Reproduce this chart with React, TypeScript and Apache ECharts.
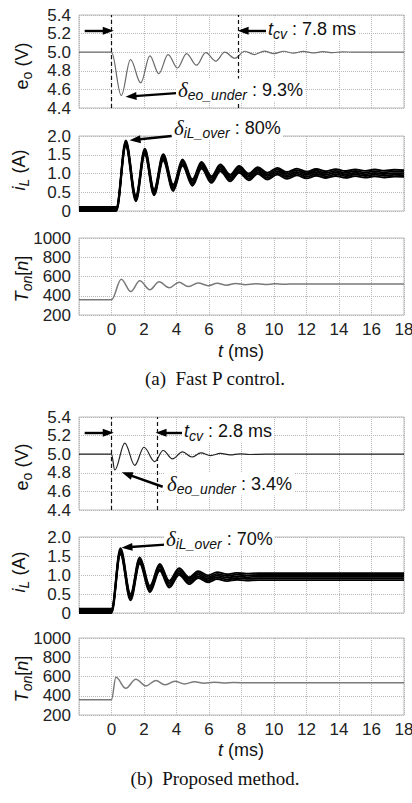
import React, { useEffect, useRef } from 'react';
import * as echarts from 'echarts';

// ---------- data ----------
const xTicksMin = -2;
const xTicksMax = 18;
const xTickStep = 2;

// (a) Fast P control
const eoATime = [-2, 0, 0.6, 1.17, 1.8, 2.36, 2.91, 3.48, 4.06, 4.62, 5.23, 5.8, 6.42, 6.97, 7.59, 8.2, 8.8, 9.4, 10.0, 10.6, 11.2, 11.8, 12.4, 13.0, 13.6, 14.2, 15, 18];
const eoAVal = [5.0, 5.0, 4.535, 4.92, 4.67, 4.96, 4.77, 4.975, 4.83, 4.985, 4.86, 4.995, 4.905, 5.0, 4.935, 5.01, 4.975, 5.012, 4.985, 5.01, 4.99, 5.008, 4.992, 5.006, 4.995, 5.004, 5.0, 5.0];

// inductor current: centre of the ripple band and half of its thickness
const iLATime = [-2, 0.3, 0.88, 1.5, 2.05, 2.62, 3.18, 3.8, 4.37, 4.98, 5.54, 6.15, 6.7, 7.3, 7.85, 8.45, 9.0, 9.6, 10.2, 10.8, 11.4, 12.0, 12.6, 13.2, 13.8, 14.4, 15.0, 15.6, 16.2, 16.8, 17.4, 18];
const iLAMid = [0.055, 0.055, 1.8, 0.34, 1.58, 0.5, 1.43, 0.62, 1.29, 0.76, 1.22, 0.84, 1.15, 0.88, 1.11, 0.91, 1.08, 0.93, 1.06, 0.95, 1.04, 0.96, 1.03, 0.97, 1.025, 0.975, 1.02, 0.98, 1.015, 0.985, 1.01, 1.0];
const iLAHalf = [0.055, 0.055, 0.08, 0.08, 0.08, 0.08, 0.085, 0.085, 0.085, 0.085, 0.09, 0.09, 0.09, 0.09, 0.09, 0.09, 0.09, 0.09, 0.09, 0.09, 0.09, 0.09, 0.09, 0.09, 0.09, 0.09, 0.09, 0.09, 0.09, 0.09, 0.09, 0.09];

const tonATime = [-2, 0, 0.6, 1.19, 1.74, 2.36, 2.93, 3.55, 4.16, 4.71, 5.33, 5.95, 6.5, 7.08, 7.65, 8.25, 8.85, 9.45, 10.05, 10.65, 11.25, 12, 18];
const tonAVal = [358, 358, 572, 443, 555, 462, 545, 482, 541, 495, 533, 505, 530, 510, 527, 515, 525, 517, 524, 519, 523, 521, 522];

const tcvA = 7.8;

// (b) Proposed method
const eoBTime = [-2, 0, 0.2, 0.82, 1.43, 2.0, 2.66, 3.18, 3.75, 4.37, 4.95, 5.5, 6.1, 6.7, 7.3, 7.9, 8.5, 9.5, 18];
const eoBVal = [5.0, 5.0, 4.83, 5.12, 4.88, 5.075, 4.92, 5.04, 4.95, 5.025, 4.97, 5.015, 4.985, 5.008, 4.992, 5.004, 4.997, 5.0, 5.0];

const iLBTime = [-2, 0, 0.55, 1.17, 1.74, 2.36, 2.97, 3.55, 4.16, 4.78, 5.33, 5.95, 6.5, 7.1, 7.7, 8.3, 9.0, 18];
const iLBMid = [0.055, 0.055, 1.62, 0.42, 1.38, 0.63, 1.2, 0.76, 1.09, 0.85, 1.01, 0.9, 0.985, 0.93, 0.965, 0.945, 0.955, 0.955];
const iLBHalf = [0.055, 0.055, 0.085, 0.085, 0.085, 0.085, 0.09, 0.09, 0.09, 0.09, 0.09, 0.09, 0.09, 0.09, 0.09, 0.09, 0.09, 0.09];

const tonBTime = [-2, 0, 0.27, 0.88, 1.5, 2.11, 2.73, 3.28, 3.9, 4.5, 5.1, 5.7, 6.3, 6.9, 7.5, 8.5, 18];
const tonBVal = [358, 358, 592, 478, 572, 502, 558, 513, 550, 523, 545, 530, 540, 533, 537, 535, 535];

const tcvB = 2.8;

// annotation arrows in data units: [x1, y1, x2(head), y2(head)]
const arrowsEoA = [[-1.65, 5.23, -0.2, 5.23], [9.6, 5.23, 8.1, 5.23], [4.0, 4.56, 1.2, 4.525]];
const arrowsILA = [[3.7, 2.0, 1.45, 1.9]];
const arrowsEoB = [[-1.65, 5.23, -0.2, 5.23], [4.35, 5.23, 3.05, 5.23], [3.15, 4.65, 0.95, 4.785]];
const arrowsILB = [[3.3, 1.8, 0.95, 1.73]];

// ---------- styling / layout ----------
const SANS = 'Liberation Sans, Arial, Helvetica, sans-serif';
const SERIF = 'Liberation Serif, Times New Roman, serif';
const GRID_LEFT = 79;
const GRID_WIDTH = 325;
const gridBoxes = [
  { top: 15, height: 93 },
  { top: 136, height: 75 },
  { top: 238, height: 77 },
  { top: 417, height: 93 },
  { top: 537, height: 76 },
  { top: 638, height: 77 },
];
// strokes that fill the ripple band: fractions of the half-thickness
const bandStrokes = [-1, -0.5, 0, 0.5, 1];

const zip = (xs: number[], ys: number[]) => xs.map((x, i) => [x, ys[i]]);

const rich: any = {
  n: { fontFamily: SANS, fontSize: 18, fill: '#111' },
  i: { fontFamily: SANS, fontSize: 18, fontStyle: 'italic', fill: '#111' },
  s: { fontFamily: SANS, fontSize: 14, fill: '#111', padding: [9, 0, 0, 0] },
  si: { fontFamily: SANS, fontSize: 14, fontStyle: 'italic', fill: '#111', padding: [9, 0, 0, 0] },
  d: { fontFamily: SERIF, fontSize: 21, fontStyle: 'italic', fill: '#111' },
};

function App() {
  const ref = useRef<HTMLDivElement>(null);
  useEffect(() => {
    const chart = echarts.init(ref.current!, null, { renderer: 'svg' });

    const yDefs = [
      { min: 4.4, max: 5.4, interval: 0.2, fmt: (v: number) => v.toFixed(1) },
      { min: 0, max: 2, interval: 0.5, fmt: (v: number) => (v === 0 ? '0' : v.toFixed(1)) },
      { min: 200, max: 1000, interval: 200, fmt: (v: number) => String(v) },
    ];

    const grid = gridBoxes.map((g) => ({
      left: GRID_LEFT,
      width: GRID_WIDTH,
      top: g.top,
      height: g.height,
      show: true,
      borderColor: '#bdbdbd',
      borderWidth: 1,
      backgroundColor: 'transparent',
      containLabel: false,
      outerBoundsMode: 'none',
    }));

    const splitLine = { show: true, lineStyle: { type: 'dotted', color: '#b8b8b8', width: 1 } };

    const xAxis = gridBoxes.map((_, i) => ({
      type: 'value',
      gridIndex: i,
      min: xTicksMin,
      max: xTicksMax,
      interval: xTickStep,
      axisLine: { show: false },
      axisTick: { show: false },
      splitLine,
      axisLabel: {
        show: i === 2 || i === 5,
        fontFamily: SANS,
        fontSize: 17,
        color: '#222',
        margin: 6,
        showMinLabel: true,
        showMaxLabel: true,
        formatter: (v: number) => (v === xTicksMin ? '' : String(v)),
      },
    }));

    const yAxis = gridBoxes.map((_, i) => {
      const d = yDefs[i % 3];
      return {
        type: 'value',
        gridIndex: i,
        min: d.min,
        max: d.max,
        interval: d.interval,
        axisLine: { show: false },
        axisTick: { show: false },
        splitLine,
        axisLabel: {
          fontFamily: SANS,
          fontSize: 17,
          color: '#222',
          margin: 8,
          showMinLabel: true,
          showMaxLabel: true,
          formatter: d.fmt,
        },
      };
    });

    const smoothOpts = { smooth: 0.36, smoothMonotone: 'x', symbol: 'none', showSymbol: false };

    const arrowSeries = (idx: number, arrows: number[][]) => ({
      type: 'line',
      xAxisIndex: idx,
      yAxisIndex: idx,
      data: [],
      clip: false,
      silent: true,
      markLine: {
        silent: true,
        animation: false,
        symbol: ['none', 'triangle'],
        symbolSize: [8, 11],
        label: { show: false },
        emphasis: { disabled: true },
        lineStyle: { color: '#000', width: 2.4, type: 'solid' },
        data: arrows.map((a) => [{ coord: [a[0], a[1]] }, { coord: [a[2], a[3]] }]),
      },
    });

    const bandSeries = (idx: number, t: number[], mid: number[], half: number[]) =>
      bandStrokes.map((f) => ({
        type: 'line',
        xAxisIndex: idx,
        yAxisIndex: idx,
        data: zip(t, mid.map((m, k) => m + f * half[k])),
        ...smoothOpts,
        lineStyle: { color: '#000', width: 1.9 },
      }));

    const group = (g: number, d: any) => {
      const b = g * 3;
      return [
        {
          type: 'line',
          xAxisIndex: b,
          yAxisIndex: b,
          data: zip(d.eoT, d.eoV),
          ...smoothOpts,
          lineStyle: { color: d.eoColor, width: 1.2 },
          z: 3,
          markLine: {
            silent: true,
            animation: false,
            symbol: ['none', 'none'],
            label: { show: false },
            emphasis: { disabled: true },
            lineStyle: { color: '#111', width: 1.2, type: [4, 3] },
            data: [{ xAxis: 0 }, { xAxis: d.tcv }],
          },
        },
        ...bandSeries(b + 1, d.iLT, d.iLM, d.iLH),
        {
          type: 'line',
          xAxisIndex: b + 2,
          yAxisIndex: b + 2,
          data: zip(d.tonT, d.tonV),
          ...smoothOpts,
          lineStyle: { color: '#7a7a7a', width: 1.5 },
        },
        arrowSeries(b, d.arrEo),
        arrowSeries(b + 1, d.arrIL),
      ];
    };

    const series = [
      ...group(0, {
        eoT: eoATime, eoV: eoAVal, eoColor: '#6a6a6a', tcv: tcvA,
        iLT: iLATime, iLM: iLAMid, iLH: iLAHalf,
        tonT: tonATime, tonV: tonAVal,
        arrEo: arrowsEoA, arrIL: arrowsILA,
      }),
      ...group(1, {
        eoT: eoBTime, eoV: eoBVal, eoColor: '#222', tcv: tcvB,
        iLT: iLBTime, iLM: iLBMid, iLH: iLBHalf,
        tonT: tonBTime, tonV: tonBVal,
        arrEo: arrowsEoB, arrIL: arrowsILB,
      }),
    ];

    const txt = (x: number, y: number, text: string, extra: any = {}) => ({
      type: 'text',
      x,
      y,
      z: 100,
      silent: true,
      ...extra,
      style: {
        text,
        rich,
        fontFamily: SANS,
        fontSize: 18,
        fill: '#111',
        align: extra.align || 'left',
        verticalAlign: 'middle',
        ...(extra.style || {}),
      },
    });
    const rot = { rotation: Math.PI / 2, align: 'center' };
    const bg = { style: { backgroundColor: '#fff', padding: [0, 2, 0, 2] } };

    const graphic = [
      // y-axis names
      txt(22, 66, '{n|e}{s|o}{n| (V)}', rot),
      txt(19, 170, '{i|i}{si|L}{n| (A)}', rot),
      txt(22, 279, '{i|T}{si|on}{n|[}{i|n}{n|]}', rot),
      txt(22, 467, '{n|e}{s|o}{n| (V)}', rot),
      txt(19, 572, '{i|i}{si|L}{n| (A)}', rot),
      txt(22, 679, '{i|T}{si|on}{n|[}{i|n}{n|]}', rot),
      // annotations (a)
      txt(266, 29, '{i|t}{si|cv}{n| : 7.8 ms}', bg),
      txt(176, 90, '{d|δ}{si|eo_under}{n| : 9.3%}', bg),
      txt(172, 128, '{d|δ}{si|iL_over}{n| : 80%}', bg),
      // annotations (b)
      txt(182, 431, '{i|t}{si|cv}{n| : 2.8 ms}', bg),
      txt(165, 484, '{d|δ}{si|eo_under}{n| : 3.4%}', bg),
      txt(164, 539, '{d|δ}{si|iL_over}{n| : 70%}', bg),
      // x-axis names
      txt(241, 351, '{i|t}{n| (ms)}', { align: 'center' }),
      txt(241, 750, '{i|t}{n| (ms)}', { align: 'center' }),
      // captions
      {
        type: 'text', x: 215, y: 378, z: 100, silent: true,
        style: { text: '(a)\u00a0\u00a0Fast P control.', fontFamily: SERIF, fontSize: 19, fill: '#111', align: 'center', verticalAlign: 'middle' },
      },
      {
        type: 'text', x: 215, y: 778, z: 100, silent: true,
        style: { text: '(b)\u00a0\u00a0Proposed method.', fontFamily: SERIF, fontSize: 19, fill: '#111', align: 'center', verticalAlign: 'middle' },
      },
    ];

    chart.setOption({
      animation: false,
      backgroundColor: '#fff',
      grid,
      xAxis,
      yAxis,
      series,
      graphic,
    } as any);

    return () => chart.dispose();
  }, []);

  return (
    <div
      ref={ref}
      style={{ position: 'fixed', left: 0, top: 0, width: 412, height: 803, background: '#fff' }}
    />
  );
}

export default App;
